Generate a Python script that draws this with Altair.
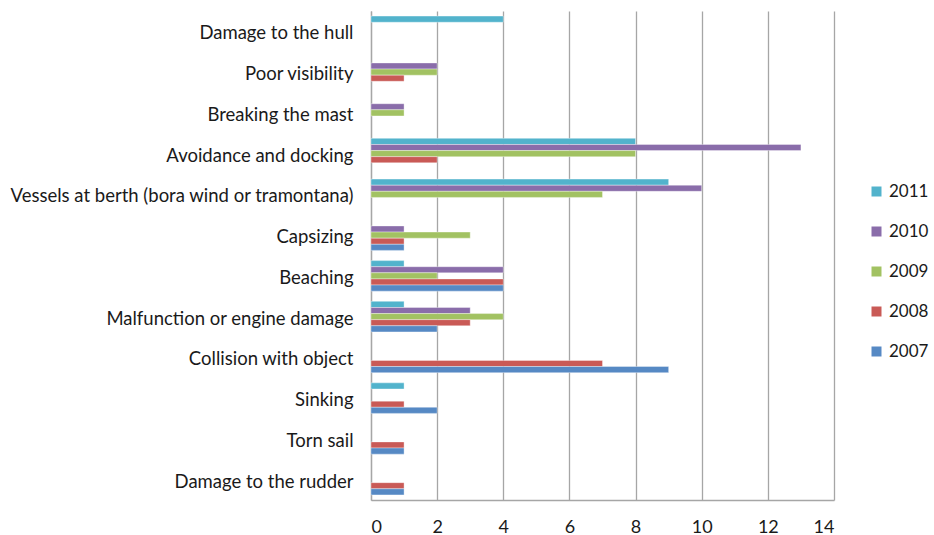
import altair as alt
import pandas as pd

# Incident causes, listed top to bottom
causes = [
    "Damage to the hull",
    "Poor visibility",
    "Breaking the mast",
    "Avoidance and docking",
    "Vessels at berth (bora wind or tramontana)",
    "Capsizing",
    "Beaching",
    "Malfunction or engine damage",
    "Collision with object",
    "Sinking",
    "Torn sail",
    "Damage to the rudder",
]

years = ["2011", "2010", "2009", "2008", "2007"]

# Number of incidents per cause, one list per year (same order as causes)
y2011 = [4, 0, 0, 8, 9, 0, 1, 1, 0, 1, 0, 0]
y2010 = [0, 2, 1, 13, 10, 1, 4, 3, 0, 0, 0, 0]
y2009 = [0, 2, 1, 8, 7, 3, 2, 4, 0, 0, 0, 0]
y2008 = [0, 1, 0, 2, 0, 1, 4, 3, 7, 1, 1, 1]
y2007 = [0, 0, 0, 0, 0, 1, 4, 2, 9, 2, 1, 1]

colors = ["#52B3CC", "#8A6DAA", "#A2C262", "#C95A56", "#5689C4"]

series = dict(zip(years, [y2011, y2010, y2009, y2008, y2007]))
rows = []
for yr, vals in series.items():
    for cause, v in zip(causes, vals):
        if v > 0:
            rows.append({"cause": cause, "year": yr, "count": v})
df = pd.DataFrame(rows)

font = "Lato"
text_color = "#1A1A1A"

bars = alt.Chart(df).mark_bar(
    stroke="white", strokeOpacity=0.45, strokeWidth=0.8
).encode(
    x=alt.X(
        "count:Q",
        scale=alt.Scale(domain=[0, 14], nice=False),
        axis=alt.Axis(
            values=[0, 2, 4, 6, 8, 10, 12, 14],
            title=None,
            grid=True,
            gridColor="#A6A6A6",
            gridWidth=1.3,
            domainColor="#A6A6A6",
            domainWidth=1.3,
            ticks=False,
            labelFont=font,
            labelFontSize=18,
            labelColor=text_color,
            labelPadding=18,
        ),
    ),
    y=alt.Y(
        "cause:N",
        sort=causes,
        scale=alt.Scale(domain=causes, paddingInner=0, paddingOuter=0),
        axis=alt.Axis(
            title=None,
            ticks=False,
            domainColor="#A6A6A6",
            domainWidth=1.3,
            labelFont=font,
            labelFontSize=18.5,
            labelColor=text_color,
            labelPadding=18,
            labelOffset=2,
            labelLimit=400,
        ),
    ),
    yOffset=alt.YOffset(
        "year:N",
        sort=years,
        scale=alt.Scale(domain=years, paddingInner=0, paddingOuter=0.84),
    ),
    color=alt.Color(
        "year:N",
        sort=years,
        scale=alt.Scale(domain=years, range=colors),
        legend=alt.Legend(
            title=None,
            orient="none",
            legendX=497,
            legendY=172,
            symbolType="square",
            symbolSize=100,
            symbolStrokeWidth=0,
            labelFont=font,
            labelFontSize=17,
            labelColor=text_color,
            rowPadding=22,
            labelOffset=4,
        ),
    ),
)

chart = bars.properties(
    width=463,
    height=489,
    padding={"left": 371, "top": 11, "right": 100, "bottom": 35},
    autosize=alt.AutoSizeParams(type="none"),
).configure_view(stroke=None)

chart.save("out.html", embed_options={"renderer": "svg", "actions": False})
